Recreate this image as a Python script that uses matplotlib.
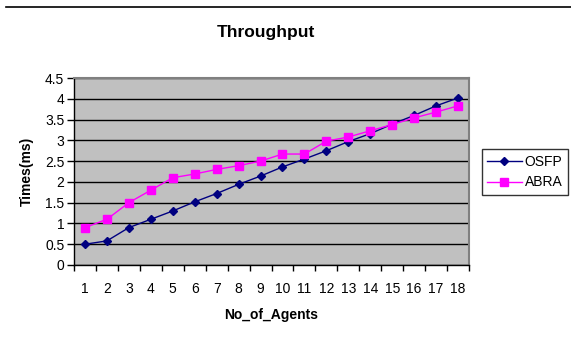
import matplotlib.pyplot as plt
import numpy as np

plt.rcParams['font.family'] = ['Liberation Sans', 'DejaVu Sans']

# Throughput data
agents = list(range(1, 19))
osfp = [0.5, 0.58, 0.9, 1.1, 1.3, 1.52, 1.72, 1.94, 2.14, 2.36, 2.55, 2.75, 2.97, 3.16, 3.39, 3.6, 3.83, 4.02]
abra = [0.9, 1.1, 1.5, 1.8, 2.1, 2.19, 2.3, 2.39, 2.5, 2.67, 2.67, 2.98, 3.08, 3.23, 3.38, 3.54, 3.68, 3.83]
y_ticks = [0, 0.5, 1, 1.5, 2, 2.5, 3, 3.5, 4, 4.5]

fig = plt.figure(figsize=(5.71, 3.40), dpi=100)
ax = fig.add_axes([74 / 571, 1 - 265 / 340, (469 - 74) / 571, (265 - 78) / 340])
ax.set_facecolor('#c0c0c0')

x = np.arange(len(agents))
ax.plot(x, osfp, color='#000080', marker='D', markersize=4.5, linewidth=1, label='OSFP')
ax.plot(x, abra, color='#ff00ff', marker='s', markersize=6, linewidth=1, label='ABRA')

ax.set_xlim(-0.5, len(agents) - 0.5)
ax.set_ylim(0, 4.5)
ax.set_yticks(y_ticks)
ax.set_yticklabels([f'{v:g}' for v in y_ticks], fontsize=10)
ax.set_xticks(x)
ax.set_xticklabels([str(a) for a in agents], fontsize=10)
ax.tick_params(axis='x', length=0, pad=12)
ax.tick_params(axis='y', length=5, width=1, direction='out', pad=2)
# tick marks between categories
ax.set_xticks(np.arange(-0.5, len(agents)), minor=True)
ax.tick_params(axis='x', which='minor', length=4, width=1, direction='out')

ax.yaxis.grid(True, color='black', linewidth=1)
ax.set_axisbelow(True)
for s in ['top', 'right']:
    ax.spines[s].set_color('#808080')
    ax.spines[s].set_linewidth(1.5)
for s in ['left', 'bottom']:
    ax.spines[s].set_color('black')
    ax.spines[s].set_linewidth(1)

ax.set_ylabel('Times(ms)', fontsize=10, fontweight='bold', labelpad=8)
ax.set_xlabel('No_of_Agents', fontsize=10, fontweight='bold', labelpad=9)
fig.text(265.5 / 571, 1 - 32 / 340, 'Throughput',
         fontsize=12.5, fontweight='bold', ha='center', va='center')

leg = ax.legend(loc='center left', bbox_to_anchor=(481.5 / 571, 1 - 172 / 340),
                bbox_transform=fig.transFigure, fontsize=10, frameon=True,
                fancybox=False, borderpad=0.4, handlelength=2.5, labelspacing=0.5,
                handletextpad=0.2, borderaxespad=0)
leg.get_frame().set_edgecolor('black')
leg.get_frame().set_linewidth(1)

# line across the top of the figure
fig.add_artist(plt.Line2D([6 / 571, 1], [1 - 7 / 340, 1 - 7 / 340], color='black', linewidth=1.2))

fig.savefig('out.png', dpi=100)
